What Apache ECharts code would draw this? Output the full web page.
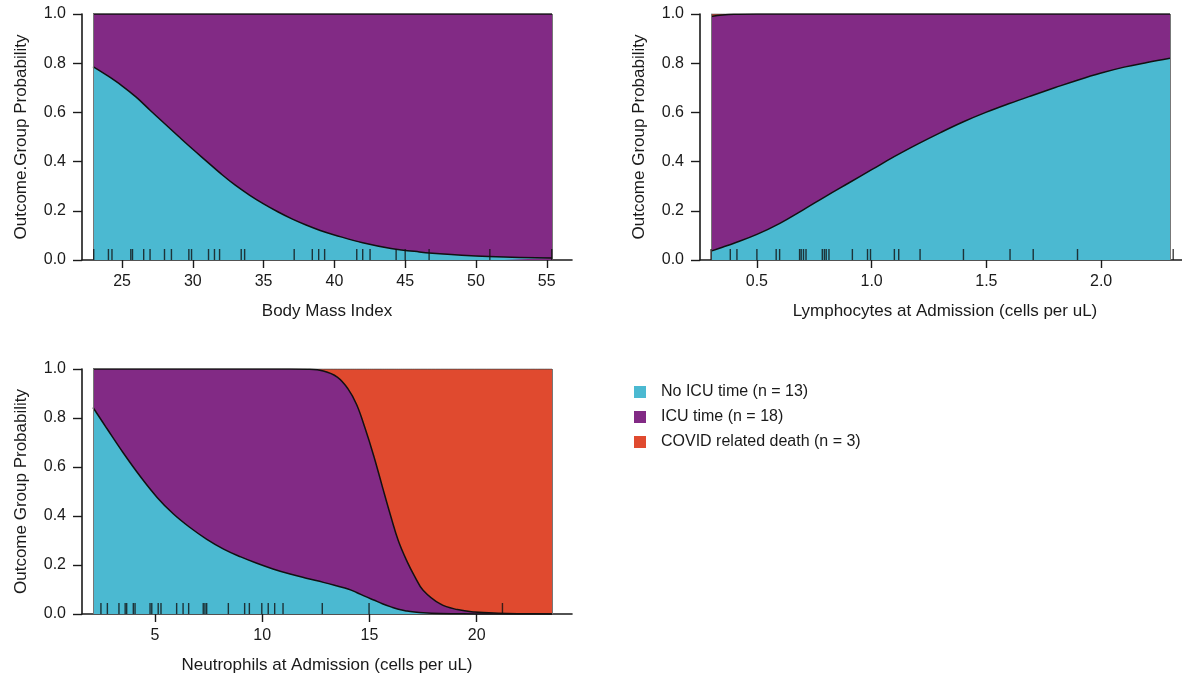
<!DOCTYPE html>
<html>
<head>
<meta charset="utf-8">
<script src="https://cdn.jsdelivr.net/npm/echarts@6/dist/echarts.min.js"></script>
<style>
  html, body { margin: 0; padding: 0; background: #ffffff; }
  #chart { width: 1182px; height: 681px; }
</style>
</head>
<body>
<div id="chart"></div>
<script>
// Outcome classes
const classNames = ['No ICU time (n = 13)', 'ICU time (n = 18)', 'COVID related death (n = 3)'];
const classColors = ['#4bb9d1', '#822a85', '#e04a2f'];

// Predicted outcome probabilities vs. body mass index
const bmiX      = [22.95, 24, 25, 26, 27, 28, 29, 30, 31, 32, 33, 34, 35, 36, 37, 38, 39, 40, 42, 44, 46, 48, 50, 52, 55.37];
const bmiNoIcu  = [0.786, 0.748, 0.708, 0.662, 0.608, 0.555, 0.502, 0.45, 0.40, 0.35, 0.304, 0.264, 0.228, 0.196, 0.167, 0.142, 0.12, 0.102, 0.070, 0.047, 0.033, 0.023, 0.016, 0.012, 0.008];
const bmiIcu    = [0.214, 0.252, 0.292, 0.338, 0.392, 0.445, 0.498, 0.55, 0.60, 0.65, 0.696, 0.736, 0.772, 0.804, 0.833, 0.858, 0.88, 0.898, 0.930, 0.953, 0.967, 0.977, 0.984, 0.988, 0.992];
const bmiDeath  = [0, 0, 0, 0, 0, 0, 0, 0, 0, 0, 0, 0, 0, 0, 0, 0, 0, 0, 0, 0, 0, 0, 0, 0, 0];
const bmiRug    = [23.0, 24.04, 24.29, 25.62, 25.74, 26.53, 26.98, 28.0, 28.49, 29.72, 29.91, 31.11, 31.53, 31.89, 33.42, 33.66, 37.16, 38.44, 38.89, 39.31, 41.58, 42.0, 42.52, 44.36, 45.0, 46.69, 50.98, 55.35];
const bmiTicks  = [25, 30, 35, 40, 45, 50, 55];

// Predicted outcome probabilities vs. lymphocytes at admission
const lymX      = [0.30, 0.35, 0.40, 0.5, 0.6, 0.7, 0.8, 0.9, 1.0, 1.1, 1.2, 1.3, 1.4, 1.5, 1.6, 1.7, 1.8, 1.9, 2.0, 2.1, 2.2, 2.30];
const lymNoIcu  = [0.036, 0.052, 0.068, 0.104, 0.149, 0.203, 0.259, 0.313, 0.367, 0.421, 0.471, 0.518, 0.562, 0.601, 0.636, 0.669, 0.701, 0.732, 0.76, 0.784, 0.803, 0.820];
const lymIcu    = [0.954, 0.944, 0.931, 0.896, 0.851, 0.797, 0.741, 0.687, 0.633, 0.579, 0.529, 0.482, 0.438, 0.399, 0.364, 0.331, 0.299, 0.268, 0.24, 0.216, 0.197, 0.180];
const lymDeath  = [0.010, 0.004, 0.001, 0, 0, 0, 0, 0, 0, 0, 0, 0, 0, 0, 0, 0, 0, 0, 0, 0, 0, 0];
const lymRug    = [0.30, 0.384, 0.413, 0.50, 0.584, 0.599, 0.686, 0.693, 0.703, 0.714, 0.785, 0.794, 0.802, 0.814, 0.916, 0.982, 0.995, 1.099, 1.118, 1.211, 1.40, 1.603, 1.704, 1.897, 2.314];
const lymTicks  = [0.5, 1.0, 1.5, 2.0];

// Predicted outcome probabilities vs. neutrophils at admission
const neuX      = [2.11, 2.75, 3.5, 4.3, 5.1, 5.85, 6.6, 7.4, 8.2, 9.0, 9.75, 10.5, 11.3, 12.1, 12.85, 13.5, 14.0, 14.4, 14.8, 15.2, 15.6, 16.0, 16.35, 16.75, 17.1, 17.5, 18.3, 19.1, 19.9, 21.0, 22.2, 23.51];
const neuNoIcu  = [0.843, 0.758, 0.66, 0.563, 0.476, 0.409, 0.355, 0.306, 0.265, 0.233, 0.207, 0.184, 0.163, 0.145, 0.129, 0.114, 0.102, 0.088, 0.072, 0.057, 0.042, 0.029, 0.019, 0.012, 0.008, 0.005, 0.002, 0.001, 0, 0, 0, 0];
const neuIcu    = [0.157, 0.242, 0.34, 0.437, 0.524, 0.591, 0.645, 0.694, 0.735, 0.767, 0.793, 0.816, 0.837, 0.854, 0.863, 0.853, 0.817, 0.767, 0.685, 0.588, 0.478, 0.368, 0.279, 0.203, 0.147, 0.092, 0.039, 0.017, 0.008, 0.003, 0.001, 0];
const neuDeath  = [0, 0, 0, 0, 0, 0, 0, 0, 0, 0, 0, 0, 0, 0.001, 0.008, 0.033, 0.081, 0.145, 0.243, 0.355, 0.48, 0.603, 0.702, 0.785, 0.845, 0.903, 0.959, 0.982, 0.992, 0.997, 0.999, 1.0];
const neuRug    = [2.48, 2.78, 3.32, 3.61, 3.68, 3.99, 4.07, 4.77, 4.85, 5.15, 5.28, 6.01, 6.31, 6.57, 7.25, 7.33, 7.41, 8.42, 9.18, 9.40, 9.98, 10.28, 10.58, 10.97, 12.80, 14.98, 21.2];
const neuTicks  = [5, 10, 15, 20];

const panels = [
  { x: bmiX, probs: [bmiNoIcu, bmiIcu, bmiDeath], rug: bmiRug, ticks: bmiTicks, digits: 0,
    xName: 'Body Mass Index', yName: 'Outcome.Group Probability' },
  { x: lymX, probs: [lymNoIcu, lymIcu, lymDeath], rug: lymRug, ticks: lymTicks, digits: 1,
    xName: 'Lymphocytes at Admission (cells per uL)', yName: 'Outcome Group Probability' },
  { x: neuX, probs: [neuNoIcu, neuIcu, neuDeath], rug: neuRug, ticks: neuTicks, digits: 0,
    xName: 'Neutrophils at Admission (cells per uL)', yName: 'Outcome Group Probability' }
];

// Panel frames (axis box) and the inset of the filled region inside each box
const frames = [
  { left: 82,  top: 14,  width: 490, height: 246 },
  { left: 700, top: 14,  width: 490, height: 246 },
  { left: 82,  top: 369, width: 490, height: 245 }
];
const insetLeft = 11, insetRight = 20;

const FONT = '"Liberation Sans", Arial, Helvetica, sans-serif';
const INK = '#1a1a1a';

const grids = [], xAxes = [], yAxes = [], series = [];

panels.forEach((p, i) => {
  const f = frames[i];
  const x0 = p.x[0], x1 = p.x[p.x.length - 1];
  const fillW = f.width - insetLeft - insetRight;
  const perPx = (x1 - x0) / fillW;

  grids.push({ left: f.left, top: f.top, width: f.width, height: f.height, outerBoundsMode: 'none', containLabel: false });

  xAxes.push({
    type: 'value', gridIndex: i,
    min: x0 - insetLeft * perPx, max: x1 + insetRight * perPx,
    name: p.xName, nameLocation: 'middle', nameGap: 43,
    nameTextStyle: { fontSize: 17, color: INK, fontFamily: FONT },
    axisLine: { show: true, onZero: false, lineStyle: { color: INK, width: 1.6 } },
    axisTick: { show: true, length: 8, inside: false, customValues: p.ticks, lineStyle: { color: INK, width: 1.4 } },
    axisLabel: { show: true, margin: 14, fontSize: 16, color: INK, fontFamily: FONT, customValues: p.ticks,
                 formatter: v => Number(v).toFixed(p.digits) },
    splitLine: { show: false }
  });

  yAxes.push({
    type: 'value', gridIndex: i, min: 0, max: 1, interval: 0.2,
    name: p.yName, nameLocation: 'middle', nameGap: 52,
    nameTextStyle: { fontSize: 17, color: INK, fontFamily: FONT },
    axisLine: { show: true, lineStyle: { color: INK, width: 1.6 } },
    axisTick: { show: true, length: 9, lineStyle: { color: INK, width: 1.4 } },
    axisLabel: { show: true, margin: 16, fontSize: 16, color: INK, fontFamily: FONT, formatter: v => v.toFixed(1) },
    splitLine: { show: false }
  });

  // Cumulative upper edge of each class band: no ICU, + ICU, + death
  const cumulative = [];
  let running = p.x.map(() => 0);
  p.probs.forEach(vals => {
    running = running.map((r, j) => r + vals[j]);
    cumulative.push(running.slice());
  });

  // Bands are layered top-down: each area fills from its upper edge to 0,
  // and the class below paints over it.
  for (let k = 2; k >= 0; k--) {
    series.push({
      type: 'line', name: classNames[k], xAxisIndex: i, yAxisIndex: i,
      smooth: 0.4, showSymbol: false, symbol: 'none', silent: true,
      data: p.x.map((xv, j) => [xv, cumulative[k][j]]),
      itemStyle: { color: classColors[k] },
      lineStyle: { color: k === 2 ? '#444' : '#111', width: k === 2 ? 1 : 1.5 },
      areaStyle: { color: classColors[k], opacity: 1, origin: 'start' },
      z: 2 + (2 - k),
      markLine: k === 0 ? {
        silent: true, symbol: 'none', label: { show: false },
        lineStyle: { color: '#777', width: 1, type: 'solid' },
        data: [{ xAxis: x0 }, { xAxis: x1 }]
      } : undefined
    });
  }

  // Rug of observed values along the bottom
  series.push({
    type: 'scatter', xAxisIndex: i, yAxisIndex: i, silent: true,
    data: p.rug.map(v => [v, 0]),
    symbol: 'rect', symbolSize: [1.4, 11], symbolOffset: [0, -5.5],
    itemStyle: { color: '#111' }, z: 10
  });
});

const chart = echarts.init(document.getElementById('chart'), null, { renderer: 'canvas' });
chart.setOption({
  animation: false,
  backgroundColor: '#ffffff',
  textStyle: { fontFamily: FONT },
  grid: grids,
  xAxis: xAxes,
  yAxis: yAxes,
  legend: {
    show: true, orient: 'vertical', left: 629, top: 379,
    data: classNames, icon: 'rect', itemWidth: 12, itemHeight: 12, itemGap: 9,
    selectedMode: false,
    itemStyle: { borderWidth: 0 },
    lineStyle: { width: 0 },
    textStyle: { fontSize: 16, color: INK, fontFamily: FONT, padding: [0, 0, 0, 10] }
  },
  series: series
});
</script>
</body>
</html>
